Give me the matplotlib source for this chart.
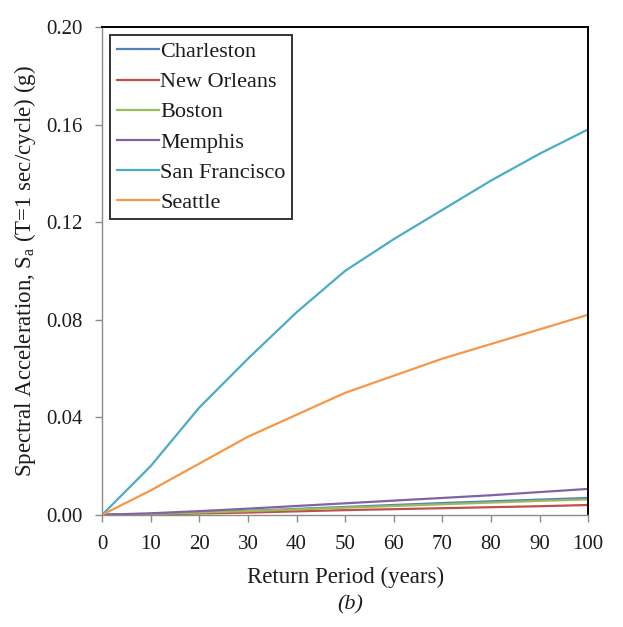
import numpy as np
import matplotlib
matplotlib.use('Agg')
import matplotlib.pyplot as plt

plt.rcParams['font.family'] = ['Liberation Serif', 'DejaVu Serif']
plt.rcParams['mathtext.fontset'] = 'custom'
plt.rcParams['mathtext.rm'] = 'Liberation Serif'
plt.rcParams['mathtext.it'] = 'Liberation Serif:italic'

# return period (years) and spectral acceleration at T=1 s (g)
years = [0, 10, 20, 30, 40, 50, 60, 70, 80, 90, 100]
charleston = [0, 0.0003, 0.0009, 0.0016, 0.0024, 0.0032, 0.0040, 0.0048, 0.0055, 0.0062, 0.0069]
new_orleans = [0, 0.0002, 0.0005, 0.0009, 0.0014, 0.0019, 0.0023, 0.0027, 0.0031, 0.0035, 0.0040]
boston = [0, 0.0003, 0.0009, 0.0015, 0.0022, 0.0029, 0.0036, 0.0043, 0.0050, 0.0057, 0.0063]
memphis = [0, 0.0006, 0.0015, 0.0025, 0.0036, 0.0047, 0.0058, 0.0069, 0.0080, 0.0093, 0.0106]
san_francisco = [0, 0.020, 0.044, 0.064, 0.083, 0.100, 0.113, 0.125, 0.137, 0.148, 0.158]
seattle = [0, 0.010, 0.021, 0.032, 0.041, 0.050, 0.057, 0.064, 0.070, 0.076, 0.082]

cities = ['Charleston', 'New Orleans', 'Boston', 'Memphis', 'San Francisco', 'Seattle']
series = [charleston, new_orleans, boston, memphis, san_francisco, seattle]
colors = ['#4F81BD', '#C0504D', '#9BBB59', '#8064A2', '#4BACC6', '#F79646']
txt = '#1c1c1c'

fig = plt.figure(figsize=(6.23, 6.27), dpi=100)
ax = fig.add_axes([0.164, 0.179, 0.780, 0.778])

for name, vals, c in zip(cities, series, colors):
    ax.plot(years, vals, color=c, lw=1.6, label=name)

ax.set_xlim(0, 100)
ax.set_ylim(0, 0.20)
ax.set_xticks(np.arange(0, 101, 10))
ax.set_yticks(np.arange(0, 0.201, 0.04))
ax.set_yticklabels(['%.2f' % v for v in np.arange(0, 0.201, 0.04)])

for side in ['left', 'bottom']:
    ax.spines[side].set_color('#8c8c8c')
    ax.spines[side].set_linewidth(1.0)
for side in ['top', 'right']:
    ax.spines[side].set_color('black')
    ax.spines[side].set_linewidth(1.4)

ax.tick_params(axis='both', direction='out', length=5, width=1.0, color='#8c8c8c',
               labelsize=15, labelcolor=txt)
ax.tick_params(axis='y', pad=9)
ax.tick_params(axis='x', pad=9.5)

ax.set_xlabel('Return Period (years)', fontsize=16.5, color=txt, labelpad=9)
ax.set_ylabel('Spectral Acceleration, S$_{\\mathrm{a}}$ (T=1 sec/cycle) (g)',
              fontsize=16.5, color=txt, labelpad=6)

leg = ax.legend(loc='upper left', fontsize=16, frameon=True, fancybox=False,
                handlelength=1.9, handletextpad=0.05, labelspacing=0.43,
                borderpad=0.3, borderaxespad=0.36)
leg.get_frame().set_edgecolor('black')
leg.get_frame().set_linewidth(1.4)
for t in leg.get_texts():
    t.set_color(txt)

fig.text(0.562, 0.036, '(b)', fontsize=16, style='italic', ha='center', va='center',
         color=txt)

fig.savefig('out.png', dpi=100)
